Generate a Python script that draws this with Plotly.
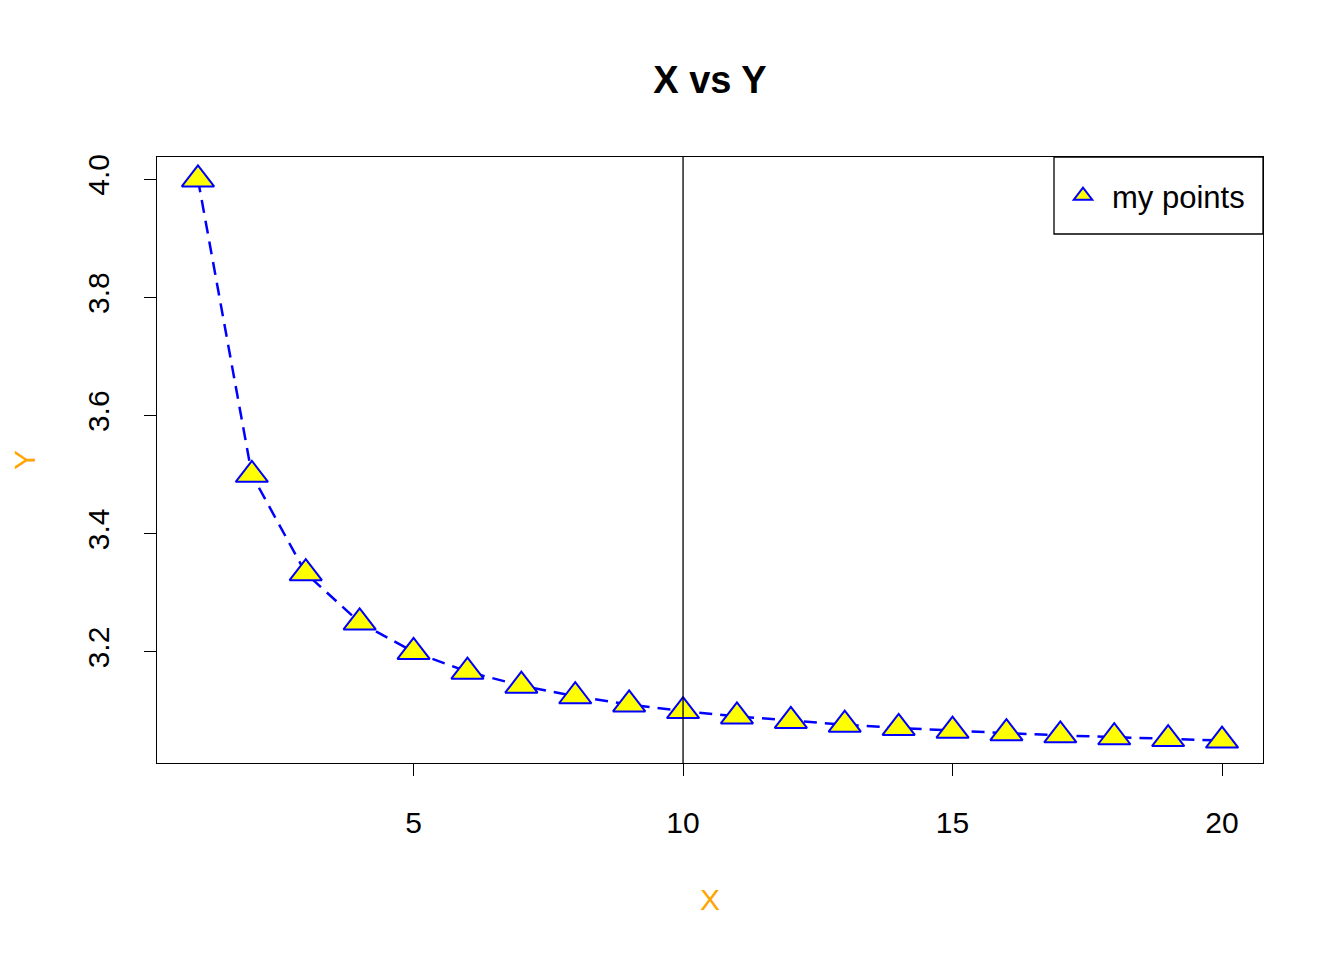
import plotly.graph_objects as go

x_vals = list(range(1, 21))
y_vals = [4.0, 3.5, 3.3333, 3.25, 3.2, 3.1667, 3.1429, 3.125, 3.1111, 3.1,
          3.0909, 3.0833, 3.0769, 3.0714, 3.0667, 3.0625, 3.0588, 3.0556, 3.0526, 3.05]
x_ticks = [5, 10, 15, 20]
y_ticks = [3.2, 3.4, 3.6, 3.8, 4.0]
y_tick_text = ["3.2", "3.4", "3.6", "3.8", "4.0"]
vline_x = 10
legend_label = "my points"

FONT = "Liberation Sans, Arial, Helvetica, sans-serif"
OFF = 8  # page body margin
PL, PR, PT, PB = 157, 1263, 157, 763  # plot area in page pixels
PW, PH = PR - PL, PB - PT

fig = go.Figure()
fig.add_trace(go.Scatter(
    x=x_vals, y=y_vals, mode="lines+markers",
    line=dict(color="#0000FF", width=2.5, dash="13px,8px"),
    marker=dict(symbol="triangle-up", size=28, color="#FFFF00",
                line=dict(color="#0000FF", width=2)),
    showlegend=False, cliponaxis=False,
))
fig.add_trace(go.Scatter(
    x=[None], y=[None], mode="markers", name=legend_label,
    marker=dict(symbol="triangle-up", size=18, color="#FFFF00",
                line=dict(color="#0000FF", width=2)),
))
fig.add_shape(type="line", x0=vline_x, x1=vline_x, y0=0, y1=1,
              xref="x", yref="paper", line=dict(color="black", width=1.3),
              layer="above")
# legend frame
fig.add_shape(type="rect", xref="paper", yref="paper",
              x0=(1054 - PL) / PW, x1=1, y0=1 - (234 - PT) / PH, y1=1,
              line=dict(color="black", width=1.3), fillcolor="rgba(0,0,0,0)",
              layer="above")

fig.update_layout(
    width=1344, height=960,
    margin=dict(l=PL - OFF, r=1344 - PR + OFF, t=PT - OFF, b=960 - PB + OFF),
    paper_bgcolor="white", plot_bgcolor="white",
    font=dict(family=FONT, size=30, color="black"),
    title=dict(text="<b>X vs Y</b>", x=(710 - OFF) / 1344, xanchor="center",
               y=1 - (80 - OFF) / 960, yanchor="middle",
               font=dict(size=38, family=FONT, color="black")),
    showlegend=True,
    legend=dict(x=(1054 - PL) / PW, xanchor="left", y=1 - 12 / PH, yanchor="top",
                borderwidth=0, bgcolor="rgba(0,0,0,0)",
                font=dict(size=31, family=FONT),
                itemsizing="trace", itemwidth=48,
                tracegroupgap=0),
)
fig.update_xaxes(
    range=[0.24, 20.76], tickvals=x_ticks, ticks="outside", ticklen=12,
    tickwidth=1.3, tickcolor="black", showline=True, linecolor="black",
    linewidth=1.3, mirror=True, showgrid=False, zeroline=False,
    tickfont=dict(size=30), ticklabelstandoff=21, automargin=False,
    title=dict(text="X", font=dict(color="#FFA500", size=30), standoff=50),
)
fig.update_yaxes(
    range=[3.012, 4.038], tickvals=y_ticks, ticktext=y_tick_text,
    ticks="outside", ticklen=12, tickwidth=1.3, tickcolor="black",
    showline=True, linecolor="black", linewidth=1.3, mirror=True,
    showgrid=False, zeroline=False, tickangle=-90,
    tickfont=dict(size=30), ticklabelstandoff=23, automargin=False,
    title=dict(text="Y", font=dict(color="#FFA500", size=30), standoff=52),
)

fig.write_html("out.html")
